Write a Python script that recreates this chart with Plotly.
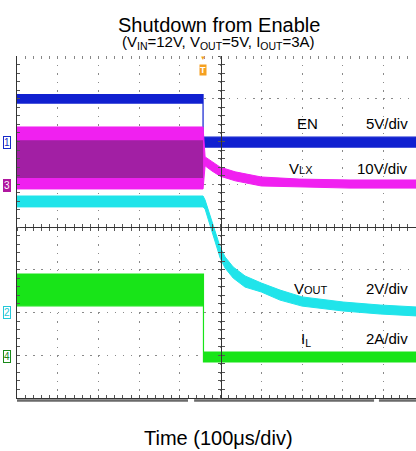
import plotly.graph_objects as go

# ---------------- data (time in microseconds, 0 = screen centre, 100 us/div) -------------
t_trigger = -43

# EN : 5 V/div, ground marker 1
en_offset, en_scale = 1.98, 5.0
en_t = [-500, -43, -43, 480]
en_hi = [5.6, 5.6, 0.6, 0.6]
en_lo = [4.6, 4.6, -0.55, -0.55]

# VLX : 10 V/div, ground marker 3
lx_offset, lx_scale = 0.98, 10.0
lx_t = [-500, -43, -38, -21, -1, 36, 100, 195, 318, 480]
lx_hi = [13.6, 13.6, 6.6, 5.4, 4.2, 3.1, 1.9, 1.4, 1.2, 1.2]
lx_lo = [-0.9, -0.9, 4.5, 3.3, 2.1, 1.0, -0.2, -0.4, -0.7, -0.7]
# dense (darker) core of the switching waveform
lx_core_t = [-500, -43]
lx_core_hi = [10.5, 10.5]
lx_core_lo = [1.66, 1.66]

# VOUT : 2 V/div, ground marker 2
vo_offset, vo_scale = -2.0, 2.0
vo_t = [-500, -43, -38, -26, -14, -1, 11, 31, 60, 100, 146, 200, 301, 392, 480]
vo_hi = [5.45, 5.45, 5.26, 4.56, 3.77, 3.06, 2.60, 2.13, 1.71, 1.38, 1.05, 0.73, 0.49, 0.35, 0.26]
vo_lo = [4.94, 4.94, 4.84, 4.09, 3.30, 2.55, 2.08, 1.61, 1.19, 0.96, 0.58, 0.30, 0.07, -0.07, -0.16]

# IL : 2 A/div, ground marker 4
il_offset, il_scale = -3.04, 2.0
il_t = [-500, -42, -42, 480]
il_hi = [3.88, 3.88, 0.23, 0.23]
il_lo = [2.39, 2.39, -0.23, -0.23]

channel_tags = ["1", "3", "2", "4"]
channel_offsets = [en_offset, lx_offset, vo_offset, il_offset]
channel_colors = ["#1428C8", "#B0179F", "#22C8D8", "#1A8A1A"]

memory_bar_segments = [(-500, -80), (-65, 377), (389, 480)]

FONT = "Liberation Sans, Arial, sans-serif"


def to_div(vals, off, scale):
    return [off + v / scale for v in vals]


def band(t, hi, lo, off, scale, color, lw):
    xs = list(t) + list(t)[::-1]
    ys = to_div(hi, off, scale) + to_div(lo, off, scale)[::-1]
    return go.Scatter(x=xs, y=ys, mode="lines", fill="toself", fillcolor=color,
                      line=dict(color=color, width=lw), hoverinfo="skip",
                      showlegend=False)


fig = go.Figure()
fig.add_trace(band(en_t, en_hi, en_lo, en_offset, en_scale, "#1020D0", 1.2))
fig.add_trace(band(lx_t, lx_hi, lx_lo, lx_offset, lx_scale, "#F020F0", 1.0))
fig.add_trace(band(lx_core_t, lx_core_hi, lx_core_lo, lx_offset, lx_scale, "#A21FA4", 0))
fig.add_trace(band(vo_t, vo_hi, vo_lo, vo_offset, vo_scale, "#20E4EA", 1.0))
fig.add_trace(band(il_t, il_hi, il_lo, il_offset, il_scale, "#18E418", 1.2))

# dummy traces so that the centre-cross overlay axes are rendered
for xa, ya in [("x2", "y"), ("x3", "y"), ("x", "y2"), ("x", "y3"), ("x4", "y")]:
    fig.add_trace(go.Scatter(x=[None], y=[None], xaxis=xa, yaxis=ya,
                             showlegend=False, hoverinfo="skip"))

XR = [-500, 480]
YR = [-4, 4]
tickc = "#555555"
gridc = "#8a8a8a"

common_x = dict(range=XR, showticklabels=False, zeroline=False, fixedrange=True)
common_y = dict(range=YR, showticklabels=False, zeroline=False, fixedrange=True)

xc = 500 / 980.0  # paper position of t = 0

fig.update_layout(
    width=416, height=451,
    margin=dict(l=17, r=0, t=56, b=53),
    paper_bgcolor="white", plot_bgcolor="white",
    showlegend=False,
    xaxis=dict(**common_x, dtick=100, tick0=0, showgrid=True, gridcolor=gridc,
               griddash="1.5px,7.05px", gridwidth=1,
               showline=True, linecolor="#333333", linewidth=1,
               ticks="inside", ticklen=3, tickcolor=tickc,
               minor=dict(dtick=20, tick0=0, ticks="inside", ticklen=3,
                          tickcolor=tickc, showgrid=False)),
    yaxis=dict(**common_y, dtick=1, tick0=0, showgrid=True, gridcolor=gridc,
               griddash="1.5px,6.64px", gridwidth=1,
               showline=True, linecolor="#333333", linewidth=1,
               ticks="inside", ticklen=3, tickcolor=tickc,
               minor=dict(dtick=0.2, tick0=0, ticks="inside", ticklen=3,
                          tickcolor=tickc, showgrid=False)),
    xaxis2=dict(**common_x, overlaying="x", anchor="free", position=0.5, side="bottom",
                showgrid=False, showline=True, linecolor="#333333", linewidth=1,
                dtick=20, tick0=0, ticks="inside", ticklen=3, tickcolor=tickc),
    xaxis3=dict(**common_x, overlaying="x", anchor="free", position=0.5, side="bottom",
                showgrid=False, showline=False,
                dtick=20, tick0=0, ticks="outside", ticklen=3, tickcolor=tickc),
    xaxis4=dict(**common_x, overlaying="x", anchor="y", side="top",
                showgrid=False, showline=False,
                dtick=20, tick0=0, ticks="inside", ticklen=3, tickcolor="#888888"),
    yaxis2=dict(**common_y, overlaying="y", anchor="free", position=xc, side="left",
                showgrid=False, showline=True, linecolor="#333333", linewidth=1,
                dtick=0.2, tick0=0, ticks="inside", ticklen=3, tickcolor=tickc),
    yaxis3=dict(**common_y, overlaying="y", anchor="free", position=xc, side="left",
                showgrid=False, showline=False,
                dtick=0.2, tick0=0, ticks="outside", ticklen=3, tickcolor=tickc),
)

# memory bar below the screen
for a, b in memory_bar_segments:
    fig.add_shape(type="line", xref="x", yref="paper", x0=a, x1=b, y0=-0.007, y1=-0.007,
                  line=dict(color="#6a6a6a", width=2.5))

ann = []
# titles
ann.append(dict(text="Shutdown from Enable", xref="x", yref="paper", x=-4, y=1.0906,
                yanchor="middle", xanchor="center",
                showarrow=False, font=dict(family=FONT, size=20, color="black")))
ann.append(dict(text="(V<sub>IN</sub>=12V, V<sub>OUT</sub>=5V, I<sub>OUT</sub>=3A)",
                xref="x", yref="paper", x=-6, y=1.039, yanchor="middle", xanchor="center",
                showarrow=False, font=dict(family=FONT, size=15, color="black")))
ann.append(dict(text="Time (100\u03bcs/div)", xref="x", yref="paper", x=-5, y=-0.117,
                yanchor="middle", xanchor="center",
                showarrow=False, font=dict(family=FONT, size=20, color="black")))

small = "<span style='font-size:11px'>%s</span>"
labels = [
    ("EN", 183, 2.43, "5V/div", 2.43),
    ("V" + small % "LX", 163, 1.36, "10V/div", 1.36),
    ("V" + small % "OUT", 176, -1.45, "2V/div", -1.45),
    ("I<sub>L</sub>", 193, -2.64, "2A/div", -2.6),
]
for name, xl, yl, sc, ys in labels:
    ann.append(dict(text=name, x=xl, y=yl, xref="x", yref="y", xanchor="left",
                    yanchor="middle",
                    showarrow=False, font=dict(family=FONT, size=15, color="black")))
    ann.append(dict(text=sc, x=465, y=ys, xref="x", yref="y",
                    xanchor="right", yanchor="middle", showarrow=False,
                    font=dict(family=FONT, size=15, color="black")))

# channel ground markers
for tag, off, col in zip(channel_tags, channel_offsets, channel_colors):
    filled = tag == "3"
    ann.append(dict(text=tag, xref="paper", yref="y", x=-0.025, y=off, showarrow=False,
                    xanchor="center", yanchor="middle",
                    font=dict(family=FONT, size=10, color="white" if filled else col),
                    bgcolor=col if filled else "white", bordercolor=col, borderwidth=1,
                    borderpad=0))

# trigger marker
ann.append(dict(text="\u25bc", xref="x", yref="paper", x=t_trigger, y=0.995,
                xanchor="center", yanchor="middle",
                showarrow=False, font=dict(size=6, color="#F0A020")))
ann.append(dict(text="<b>T</b>", xref="x", yref="paper", x=t_trigger, y=0.959,
                xanchor="center", yanchor="middle",
                showarrow=False, font=dict(family=FONT, size=9, color="white"),
                bgcolor="#F5A020", borderpad=0))

fig.update_layout(annotations=ann)

fig.write_html("out.html", config={"displayModeBar": False},
               post_script="document.body.style.margin='0';document.body.style.overflow='hidden';")
